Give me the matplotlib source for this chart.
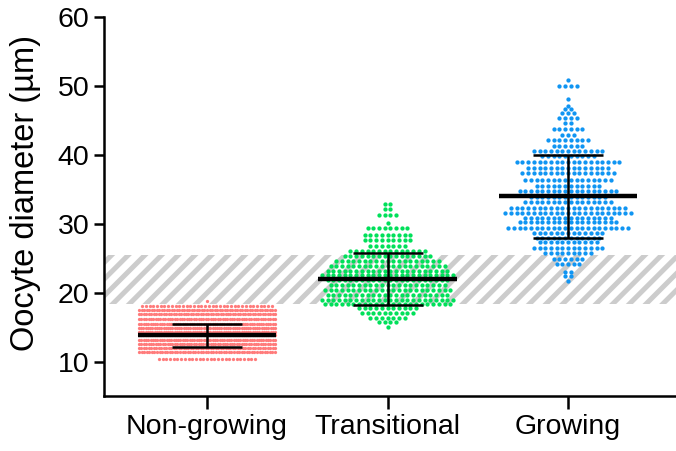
import numpy as np
import matplotlib
matplotlib.use("Agg")
import matplotlib.pyplot as plt

groups = ["Non-growing", "Transitional", "Growing"]
colors = ["#ff7b7b", "#00e05a", "#1095f2"]

# each group as rows of dots: diameter (µm) and number of oocytes in that row
ng_vals = [18.8, 18.04, 17.41, 16.84, 16.11, 15.49, 14.91, 14.33, 13.80, 13.12, 12.50, 11.92, 11.44, 10.3]
ng_counts = [1, 36, 55, 56, 58, 60, 62, 62, 62, 60, 58, 56, 54, 27]

tr_vals = [32.9, 32.2, 31.3, 30.1, 29.4, 28.3, 27.6, 26.7, 26.0, 25.3, 24.6, 23.9, 23.2,
           22.5, 21.8, 21.1, 20.4, 19.7, 19.0, 18.4, 17.8, 17.1, 16.3, 15.7, 15.0]
tr_counts = [2, 2, 4, 1, 8, 9, 9, 7, 14, 16, 19, 21, 22, 24, 22, 21, 23, 22, 24, 23, 11, 10, 7, 4, 1]

gw_vals = [50.8, 50.0, 48.1, 47.1, 46.6, 46.0, 45.3, 44.6, 43.8, 42.9, 42.2, 41.3, 40.6,
           39.9, 39.0, 38.1, 37.3, 36.4, 35.5, 34.7, 33.9, 33.1, 32.3, 31.6, 30.9, 30.2,
           29.4, 28.7, 28.0, 27.3, 26.5, 25.7, 24.9, 24.2, 23.0, 22.4, 21.7]
gw_counts = [1, 4, 1, 1, 2, 3, 4, 2, 6, 3, 8, 6, 13, 10, 19, 15, 17, 16, 12, 18, 14, 16,
             21, 23, 16, 18, 22, 13, 12, 11, 13, 9, 6, 5, 2, 2, 1]

means = [13.8, 22.0, 34.0]
sds = [1.7, 3.75, 6.0]
band = (18.4, 25.5)

rows = [(ng_vals, ng_counts), (tr_vals, tr_counts), (gw_vals, gw_counts)]
steps = [3.7, 5.7, 5.7]  # dot spacing in pixels
dot_sizes = [5.5, 9.5, 9.5]
half_width = 68  # pixels

plt.rcParams["font.family"] = ["Liberation Sans", "DejaVu Sans"]
plt.rcParams["hatch.color"] = "#cccccc"
plt.rcParams["hatch.linewidth"] = 3.6

fig = plt.figure(figsize=(6.76, 4.51), dpi=100)
ax = fig.add_axes([104 / 676, 55 / 451, 572 / 676, 379 / 451])
ax.set_xlim(-0.5706, 2.598)
ax.set_ylim(5, 60)

px = ax.get_window_extent().width / (2.598 + 0.5706)


def row_offsets(n, step):
    if n > 1:
        step = min(step, 2 * half_width / (n - 1))
    return (np.arange(n) - (n - 1) / 2) * step


ax.axhspan(band[0], band[1], facecolor="none", edgecolor="#cccccc", hatch="//", lw=0, zorder=0)

for i, (vals, counts) in enumerate(rows):
    xs, ys = [], []
    for v, c in zip(vals, counts):
        xs.extend(i + row_offsets(c, steps[i]) / px)
        ys.extend([v] * c)
    ax.scatter(xs, ys, s=dot_sizes[i], color=colors[i], linewidths=0, zorder=2)

    m, sd = means[i], sds[i]
    ax.hlines(m, i - 0.383, i + 0.383, color="black", lw=3.2, zorder=4)
    ax.hlines([m - sd, m + sd], i - 0.194, i + 0.194, color="black", lw=1.8, zorder=4)
    ax.vlines(i, m - sd, m + sd, color="black", lw=1.8, zorder=4)

ax.spines["top"].set_visible(False)
ax.spines["right"].set_visible(False)
ax.spines["left"].set_linewidth(1.8)
ax.spines["bottom"].set_linewidth(1.8)
ax.set_xticks(range(3))
ax.set_xticklabels(groups)
ax.set_yticks(range(10, 61, 10))
ax.tick_params(axis="both", width=1.8, labelsize=20.5)
ax.tick_params(axis="y", length=7.5, pad=3)
ax.tick_params(axis="x", length=9, pad=4)
ax.set_ylabel("Oocyte diameter (µm)", fontsize=23.5)
ax.yaxis.set_label_coords(-0.110, 0.536)

fig.savefig("out.png", dpi=100)
